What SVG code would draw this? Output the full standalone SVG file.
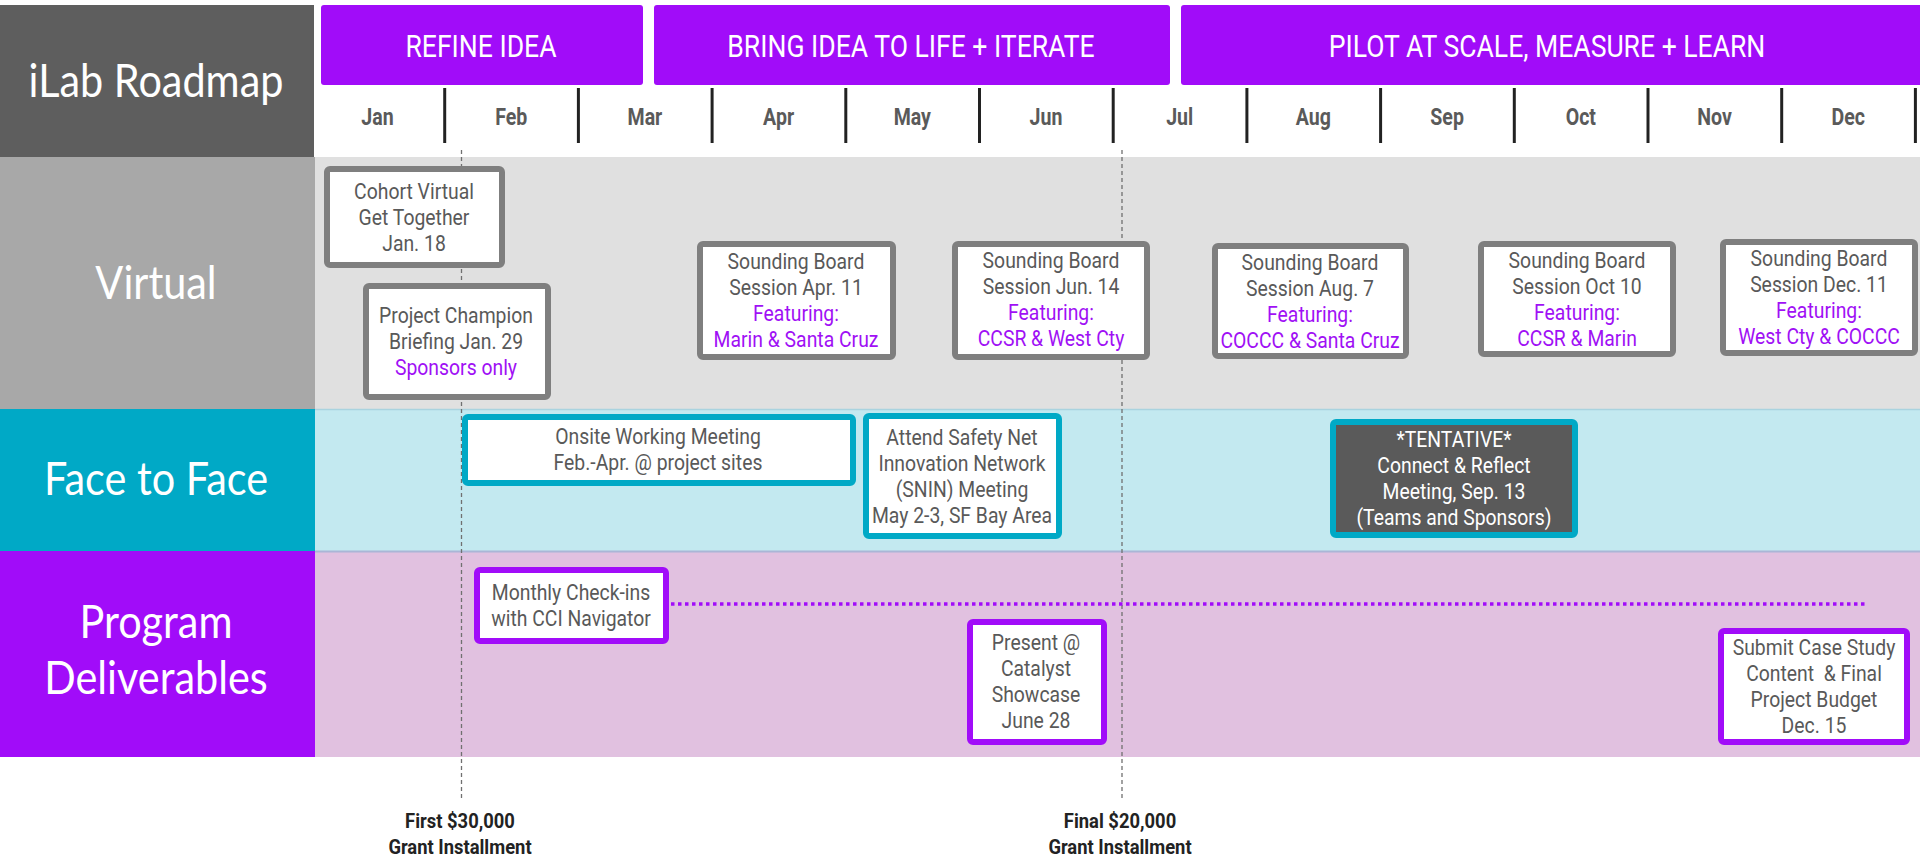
<svg xmlns="http://www.w3.org/2000/svg" width="1920" height="860" viewBox="0 0 1920 860">
<style>
.nt{font-family:Roboto,"Liberation Sans",sans-serif;font-size:22px;fill:#595959;text-anchor:middle}
.pt{fill:#a010f5}
.wt{fill:#ffffff}
.mon{font-family:Roboto,"Liberation Sans",sans-serif;font-weight:bold;font-size:23px;fill:#5a5a5a;text-anchor:middle}
.ph{font-family:Roboto,"Liberation Sans",sans-serif;font-size:32px;fill:#ffffff;text-anchor:middle}
.lab{font-family:Lato,"Open Sans",sans-serif;font-size:46px;fill:#ffffff;text-anchor:middle}
.inst{font-family:Roboto,"Liberation Sans",sans-serif;font-weight:bold;font-size:20px;fill:#222222;text-anchor:middle}
.gbox{fill:#ffffff;stroke:#7f7f7f;stroke-width:6}
.tbox{fill:#ffffff;stroke:#00a9c6;stroke-width:6}
.dbox{fill:#5a5a5a;stroke:#00a9c6;stroke-width:6}
.pbox{fill:#ffffff;stroke:#a10cf9;stroke-width:6}
.div{stroke:#222222;stroke-width:3}
.dash{stroke:#707070;stroke-width:1.3;stroke-dasharray:4 3;fill:none}
</style>
<rect x="0" y="0" width="1920" height="860" fill="#ffffff"/>

<!-- lanes background -->
<g id="lanes">
<rect x="315" y="157" width="1605" height="252" fill="#e0e0e0"/>
<rect x="315" y="409" width="1605" height="142" fill="#c3e9f0"/>
<rect x="315" y="551" width="1605" height="206" fill="#e1c1e0"/>
<line x1="315" y1="409.5" x2="1920" y2="409.5" stroke="#a9d3df" stroke-width="1.5"/>
<line x1="315" y1="551.5" x2="1920" y2="551.5" stroke="#aab6d6" stroke-width="2"/>
</g>

<!-- title and row labels -->
<g id="title">
<rect x="0" y="5" width="314" height="152" fill="#5e5e5e"/>
<text class="lab" transform="translate(156 97) scale(0.9 1)" x="0" y="0">iLab Roadmap</text>
</g>
<g id="label-virtual">
<rect x="0" y="157" width="315" height="252" fill="#a8a8a8"/>
<text class="lab" transform="translate(156 299) scale(0.9 1)" x="0" y="0">Virtual</text>
</g>
<g id="label-face">
<rect x="0" y="409" width="315" height="142" fill="#00a9c6"/>
<text class="lab" transform="translate(156 495) scale(0.9 1)" x="0" y="0">Face to Face</text>
</g>
<g id="label-program">
<rect x="0" y="551" width="315" height="206" fill="#a10cf9"/>
<text class="lab" transform="translate(156 0) scale(0.9 1)"><tspan x="0" y="638">Program</tspan><tspan x="0" y="694">Deliverables</tspan></text>
</g>

<!-- phases -->
<g id="phase-refine">
<rect x="321" y="5" width="322" height="80" rx="3" fill="#a10cf9"/>
<text class="ph" transform="translate(481 57) scale(0.83 1)" x="0" y="0">REFINE IDEA</text>
</g>
<g id="phase-bring">
<rect x="654" y="5" width="516" height="80" rx="3" fill="#a10cf9"/>
<text class="ph" transform="translate(911 57) scale(0.83 1)" x="0" y="0">BRING IDEA TO LIFE + ITERATE</text>
</g>
<g id="phase-pilot">
<rect x="1181" y="5" width="745" height="80" rx="3" fill="#a10cf9"/>
<text class="ph" transform="translate(1547 57) scale(0.83 1)" x="0" y="0">PILOT AT SCALE, MEASURE + LEARN</text>
</g>

<!-- months -->
<g id="months">
<line class="div" x1="444.7" y1="88" x2="444.7" y2="143"/>
<line class="div" x1="578.4" y1="88" x2="578.4" y2="143"/>
<line class="div" x1="712.1" y1="88" x2="712.1" y2="143"/>
<line class="div" x1="845.8" y1="88" x2="845.8" y2="143"/>
<line class="div" x1="979.5" y1="88" x2="979.5" y2="143"/>
<line class="div" x1="1113.2" y1="88" x2="1113.2" y2="143"/>
<line class="div" x1="1246.9" y1="88" x2="1246.9" y2="143"/>
<line class="div" x1="1380.6" y1="88" x2="1380.6" y2="143"/>
<line class="div" x1="1514.3" y1="88" x2="1514.3" y2="143"/>
<line class="div" x1="1648" y1="88" x2="1648" y2="143"/>
<line class="div" x1="1781.7" y1="88" x2="1781.7" y2="143"/>
<line class="div" x1="1915.4" y1="88" x2="1915.4" y2="143"/>
<text class="mon" transform="translate(377.5 125) scale(0.85 1)">Jan</text>
<text class="mon" transform="translate(511.2 125) scale(0.85 1)">Feb</text>
<text class="mon" transform="translate(644.9 125) scale(0.85 1)">Mar</text>
<text class="mon" transform="translate(778.6 125) scale(0.85 1)">Apr</text>
<text class="mon" transform="translate(912.3 125) scale(0.85 1)">May</text>
<text class="mon" transform="translate(1046 125) scale(0.85 1)">Jun</text>
<text class="mon" transform="translate(1179.7 125) scale(0.85 1)">Jul</text>
<text class="mon" transform="translate(1313.4 125) scale(0.85 1)">Aug</text>
<text class="mon" transform="translate(1447.1 125) scale(0.85 1)">Sep</text>
<text class="mon" transform="translate(1580.8 125) scale(0.85 1)">Oct</text>
<text class="mon" transform="translate(1714.5 125) scale(0.85 1)">Nov</text>
<text class="mon" transform="translate(1848.2 125) scale(0.85 1)">Dec</text>
</g>

<!-- connectors / markers -->
<g id="connectors">
<line class="dash" x1="461.5" y1="150" x2="461.5" y2="800"/>
<line class="dash" x1="1122" y1="150" x2="1122" y2="800"/>
<line x1="671" y1="604" x2="1867" y2="604" stroke="#a10cf9" stroke-width="3.5" stroke-dasharray="3.5 3.5"/>
</g>

<!-- Virtual nodes -->
<g id="cohort">
<rect class="gbox" x="327" y="169" width="175" height="96" rx="3"/>
<text class="nt" transform="translate(414 0) scale(0.88 1)"><tspan x="0" y="199">Cohort Virtual</tspan><tspan x="0" y="225">Get Together</tspan><tspan x="0" y="251">Jan. 18</tspan></text>
</g>
<g id="champion">
<rect class="gbox" x="366" y="286" width="182" height="111" rx="3"/>
<text class="nt" transform="translate(456 0) scale(0.88 1)"><tspan x="0" y="323">Project Champion</tspan><tspan x="0" y="349">Briefing Jan. 29</tspan><tspan class="pt" x="0" y="375">Sponsors only</tspan></text>
</g>
<g id="sb-apr">
<rect class="gbox" x="700" y="244" width="193" height="113" rx="3"/>
<text class="nt" transform="translate(796 0) scale(0.88 1)"><tspan x="0" y="269">Sounding Board</tspan><tspan x="0" y="295">Session Apr. 11</tspan><tspan class="pt" x="0" y="321">Featuring:</tspan><tspan class="pt" x="0" y="347">Marin &amp; Santa Cruz</tspan></text>
</g>
<g id="sb-jun">
<rect class="gbox" x="955" y="244" width="192" height="113" rx="3"/>
<text class="nt" transform="translate(1051 0) scale(0.88 1)"><tspan x="0" y="268">Sounding Board</tspan><tspan x="0" y="294">Session Jun. 14</tspan><tspan class="pt" x="0" y="320">Featuring:</tspan><tspan class="pt" x="0" y="346">CCSR &amp; West Cty</tspan></text>
</g>
<g id="sb-aug">
<rect class="gbox" x="1215" y="246" width="191" height="110" rx="3"/>
<text class="nt" transform="translate(1310 0) scale(0.88 1)"><tspan x="0" y="270">Sounding Board</tspan><tspan x="0" y="296">Session Aug. 7</tspan><tspan class="pt" x="0" y="322">Featuring:</tspan><tspan class="pt" x="0" y="348">COCCC &amp; Santa Cruz</tspan></text>
</g>
<g id="sb-oct">
<rect class="gbox" x="1481" y="244" width="192" height="110" rx="3"/>
<text class="nt" transform="translate(1577 0) scale(0.88 1)"><tspan x="0" y="268">Sounding Board</tspan><tspan x="0" y="294">Session Oct 10</tspan><tspan class="pt" x="0" y="320">Featuring:</tspan><tspan class="pt" x="0" y="346">CCSR &amp; Marin</tspan></text>
</g>
<g id="sb-dec">
<rect class="gbox" x="1723" y="242" width="192" height="111" rx="3"/>
<text class="nt" transform="translate(1819 0) scale(0.88 1)"><tspan x="0" y="266">Sounding Board</tspan><tspan x="0" y="292">Session Dec. 11</tspan><tspan class="pt" x="0" y="318">Featuring:</tspan><tspan class="pt" x="0" y="344">West Cty &amp; COCCC</tspan></text>
</g>

<!-- Face to Face nodes -->
<g id="onsite">
<rect class="tbox" x="465" y="417" width="388" height="66" rx="3"/>
<text class="nt" transform="translate(658 0) scale(0.88 1)"><tspan x="0" y="444">Onsite Working Meeting</tspan><tspan x="0" y="470">Feb.-Apr. @ project sites</tspan></text>
</g>
<g id="snin">
<rect class="tbox" x="866" y="416" width="193" height="120" rx="3"/>
<text class="nt" transform="translate(962 0) scale(0.88 1)"><tspan x="0" y="445">Attend Safety Net</tspan><tspan x="0" y="471">Innovation Network</tspan><tspan x="0" y="497">(SNIN) Meeting</tspan><tspan x="0" y="523">May 2-3, SF Bay Area</tspan></text>
</g>
<g id="tentative">
<rect class="dbox" x="1333" y="422" width="242" height="113" rx="3"/>
<text class="nt wt" transform="translate(1454 0) scale(0.88 1)"><tspan x="0" y="447">*TENTATIVE*</tspan><tspan x="0" y="473">Connect &amp; Reflect</tspan><tspan x="0" y="499">Meeting, Sep. 13</tspan><tspan x="0" y="525">(Teams and Sponsors)</tspan></text>
</g>

<!-- Program Deliverables nodes -->
<g id="monthly">
<rect class="pbox" x="477" y="570" width="189" height="71" rx="3"/>
<text class="nt" transform="translate(571 0) scale(0.88 1)"><tspan x="0" y="600">Monthly Check-ins</tspan><tspan x="0" y="626">with CCI Navigator</tspan></text>
</g>
<g id="present">
<rect class="pbox" x="970" y="622" width="134" height="120" rx="3"/>
<text class="nt" transform="translate(1036 0) scale(0.88 1)"><tspan x="0" y="650">Present @</tspan><tspan x="0" y="676">Catalyst</tspan><tspan x="0" y="702">Showcase</tspan><tspan x="0" y="728">June 28</tspan></text>
</g>
<g id="submit">
<rect class="pbox" x="1721" y="631" width="186" height="111" rx="3"/>
<text class="nt" transform="translate(1814 0) scale(0.88 1)"><tspan x="0" y="655">Submit Case Study</tspan><tspan x="0" y="681" xml:space="preserve">Content  &amp; Final</tspan><tspan x="0" y="707">Project Budget</tspan><tspan x="0" y="733">Dec. 15</tspan></text>
</g>

<!-- installments -->
<g id="first-installment">
<text class="inst" transform="translate(460 0) scale(0.92 1)"><tspan x="0" y="828">First $30,000</tspan><tspan x="0" y="854">Grant Installment</tspan></text>
</g>
<g id="final-installment">
<text class="inst" transform="translate(1120 0) scale(0.92 1)"><tspan x="0" y="828">Final $20,000</tspan><tspan x="0" y="854">Grant Installment</tspan></text>
</g>
</svg>
